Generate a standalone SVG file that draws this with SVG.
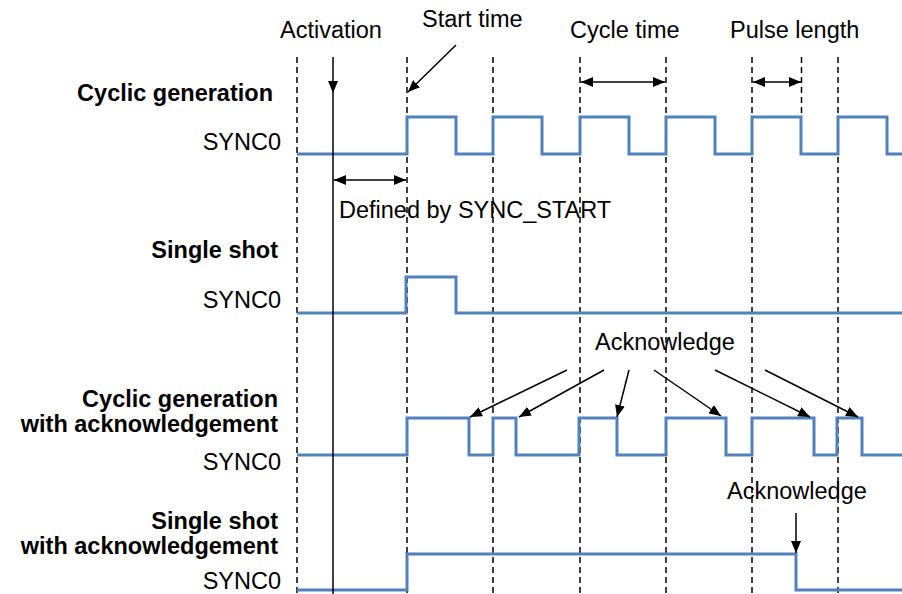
<svg xmlns="http://www.w3.org/2000/svg" width="902" height="594" viewBox="0 0 902 594">
<defs>
<style>
text{font-family:"Liberation Sans",Arial,sans-serif;font-size:23.5px;fill:#000}
.b{font-weight:bold}
.e{text-anchor:end}
.dash{stroke:#000;stroke-width:1.5;stroke-dasharray:6 4;fill:none}
.sig{stroke:#4F81BD;stroke-width:3;fill:none;stroke-linejoin:miter}
.arr{stroke:#000;stroke-width:1.5;fill:none}
</style>
<marker id="ah" viewBox="0 0 12 10" refX="12" refY="5" markerWidth="12" markerHeight="10" markerUnits="userSpaceOnUse" orient="auto-start-reverse">
<path d="M0,0 L12,5 L0,10 Z" fill="#000"/>
</marker>
</defs>
<rect width="902" height="594" fill="#fff"/>
<g id="gridlines">
<line class="dash" x1="297" y1="57" x2="297" y2="594"/>
<line class="dash" x1="407" y1="57" x2="407" y2="594"/>
<line class="dash" x1="493" y1="57" x2="493" y2="594"/>
<line class="dash" x1="580" y1="57" x2="580" y2="594"/>
<line class="dash" x1="666" y1="57" x2="666" y2="594"/>
<line class="dash" x1="752" y1="57" x2="752" y2="594"/>
<line class="dash" x1="838" y1="57" x2="838" y2="594"/>
<line class="dash" x1="801.5" y1="57" x2="801.5" y2="117"/>
</g>
<g id="labels">
<text x="280" y="38">Activation</text>
<text x="422" y="27">Start time</text>
<text x="570" y="38">Cycle time</text>
<text x="730" y="38">Pulse length</text>
<text x="339" y="218">Defined by SYNC_START</text>
<text x="595" y="350">Acknowledge</text>
<text x="727" y="499">Acknowledge</text>
</g>
<g id="row1">
<text class="b e" x="273" y="101">Cyclic generation</text>
<text class="e" x="281" y="150">SYNC0</text>
<path class="sig" d="M297,154 H407 V117 H456 V154 H493 V117 H542 V154 H580 V117 H629 V154 H666 V117 H715 V154 H752 V117 H801 V154 H838 V117 H887 V154 H902"/>
</g>
<g id="row2">
<text class="b e" x="278" y="258">Single shot</text>
<text class="e" x="281" y="308">SYNC0</text>
<path class="sig" d="M297,313 H406 V277 H456 V313 H902"/>
</g>
<g id="row3">
<text class="b e" x="278" y="407">Cyclic generation</text>
<text class="b e" x="278" y="432">with acknowledgement</text>
<text class="e" x="281" y="470">SYNC0</text>
<path class="sig" d="M297,455 H407 V418 H469 V455 H493 V418 H516 V455 H579 V418 H617 V455 H666 V418 H726 V455 H752 V418 H814 V455 H837 V418 H862 V455 H902"/>
</g>
<g id="row4">
<text class="b e" x="278" y="529">Single shot</text>
<text class="b e" x="278" y="554">with acknowledgement</text>
<text class="e" x="281" y="589">SYNC0</text>
<path class="sig" d="M297,590 H407 V554 H796 V590 H902"/>
</g>
<g id="connectors">
<line class="arr" x1="333" y1="93" x2="333" y2="594"/>
<line class="arr" x1="333" y1="57" x2="333" y2="93" marker-end="url(#ah)"/>
<line class="arr" x1="456" y1="45" x2="408" y2="92" marker-end="url(#ah)"/>
<line class="arr" x1="334" y1="180" x2="406" y2="180" marker-start="url(#ah)" marker-end="url(#ah)"/>
<line class="arr" x1="581" y1="82" x2="665" y2="82" marker-start="url(#ah)" marker-end="url(#ah)"/>
<line class="arr" x1="753" y1="82" x2="801" y2="82" marker-start="url(#ah)" marker-end="url(#ah)"/>
<line class="arr" x1="567" y1="370" x2="470" y2="417" marker-end="url(#ah)"/>
<line class="arr" x1="604" y1="370" x2="519" y2="417" marker-end="url(#ah)"/>
<line class="arr" x1="629" y1="370" x2="617" y2="417" marker-end="url(#ah)"/>
<line class="arr" x1="654" y1="370" x2="721" y2="416" marker-end="url(#ah)"/>
<line class="arr" x1="715" y1="370" x2="810" y2="417" marker-end="url(#ah)"/>
<line class="arr" x1="765" y1="370" x2="858" y2="417" marker-end="url(#ah)"/>
<line class="arr" x1="796" y1="513" x2="796" y2="553" marker-end="url(#ah)"/>
</g>
</svg>
